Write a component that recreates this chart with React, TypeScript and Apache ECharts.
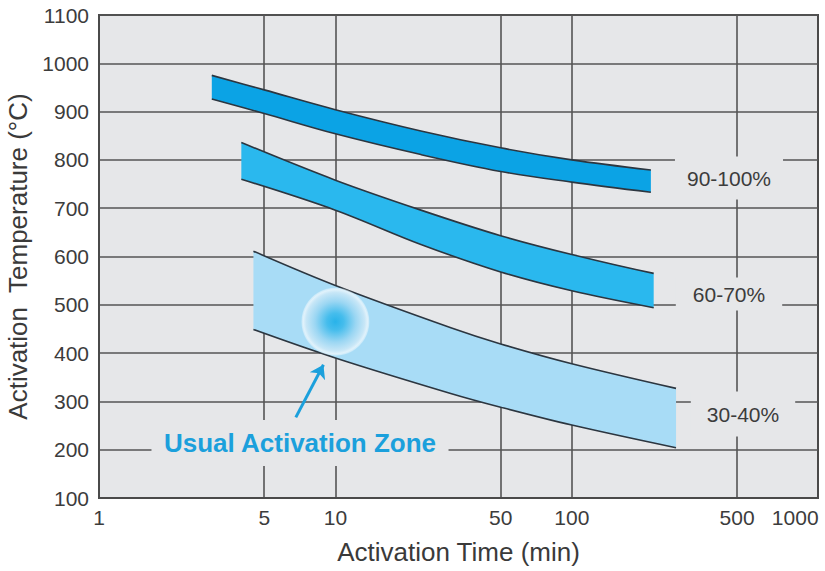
import React, { useEffect, useRef } from "react";
import * as echarts from "echarts";

// ---- data ----
const xLabelValues = [1, 5, 10, 50, 100, 500, 1000];
const xGridValues = [5, 10, 50, 100, 500];

const band1Time = [3, 5, 10, 23, 50, 100, 216];
const band1Upper = [975, 945, 904, 860, 825, 800, 779];
const band1Lower = [926, 896, 854, 811, 776, 754, 733];

const band2Time = [4, 10, 23, 50, 100, 222];
const band2Upper = [836, 758, 696, 643, 604, 565];
const band2Lower = [760, 696, 625, 568, 529, 494];

const band3Time = [4.5, 10, 31, 50, 100, 276];
const band3Upper = [611, 540, 452, 419, 378, 327];
const band3Lower = [449, 390, 316, 288, 251, 204];

const bandNames = ["90-100%", "60-70%", "30-40%"];
const zoneCenter = [10, 465];
const arrowFrom = [6.8, 267];
const arrowTo = [8.9, 376];

const FONT = "'Liberation Sans', Arial, Helvetica, sans-serif";
const PLOT_BG = "#e6e7e9";
const GRID_LINE = "#555555";
const EDGE = "#2c3640";
const ZONE_BLUE = "#1ba0dc";

// rows are [temperature, time] so that the stacked dimension is the y (temperature) one
function makeBand(name: string, time: number[], upper: number[], lower: number[], color: string) {
  return [
    {
      type: "line",
      name: name + " lower",
      stack: name,
      dimensions: ["temp", "time"],
      encode: { x: 1, y: 0 },
      data: time.map((t, i) => [lower[i], t]),
      smooth: 0.35,
      symbol: "none",
      silent: true,
      lineStyle: { color: EDGE, width: 1.6 },
      z: 4,
    },
    {
      type: "line",
      name: name + " upper",
      stack: name,
      dimensions: ["temp", "time"],
      encode: { x: 1, y: 0 },
      data: time.map((t, i) => [upper[i] - lower[i], t]),
      smooth: 0.35,
      symbol: "none",
      silent: true,
      lineStyle: { color: EDGE, width: 1.6 },
      areaStyle: { color, opacity: 1 },
      z: 3,
    },
  ];
}

function labelText(text: string, x: number, y: number, padding: number[], extra: any = {}) {
  return {
    type: "text",
    x,
    y,
    z: 100,
    silent: true,
    style: {
      text,
      align: "center",
      verticalAlign: "middle",
      fontFamily: FONT,
      fontSize: 21,
      fill: "#3c3c3c",
      backgroundColor: PLOT_BG,
      padding,
      ...extra,
    },
  };
}

export default function App() {
  const ref = useRef<HTMLDivElement>(null);
  useEffect(() => {
    const chart = echarts.init(ref.current!, null, { renderer: "svg" });
    const option: any = {
      animation: false,
      grid: {
        left: 99,
        top: 15,
        right: 7,
        bottom: 73,
        show: true,
        backgroundColor: PLOT_BG,
        borderColor: "#4a4a4a",
        borderWidth: 2,
        outerBoundsMode: "none",
        containLabel: false,
      },
      xAxis: {
        type: "log",
        logBase: 10,
        min: 1,
        max: 1100,
        name: "Activation Time (min)",
        nameLocation: "middle",
        nameGap: 41,
        nameTextStyle: { fontFamily: FONT, fontSize: 26, color: "#3a3a3a" },
        axisLine: { show: true, lineStyle: { color: "#4a4a4a", width: 2 } },
        axisTick: { show: false, customValues: xGridValues },
        minorTick: { show: false },
        minorSplitLine: { show: false },
        splitLine: { show: true, lineStyle: { color: GRID_LINE, width: 1.6 } },
        axisLabel: {
          customValues: xLabelValues,
          formatter: (v: number) => {
            const s = String(Math.round(v));
            return Math.round(v) === 1000 ? "{p|" + s + "}" : s;
          },
          fontFamily: FONT,
          fontSize: 21,
          color: "#3c3c3c",
          margin: 9,
          rich: {
            p: { fontFamily: FONT, fontSize: 21, color: "#3c3c3c", padding: [0, 26, 0, 0] },
          },
        },
      },
      yAxis: {
        type: "value",
        min: 100,
        max: 1100,
        interval: 100,
        name: "Activation  Temperature (\u00B0C)",
        nameLocation: "middle",
        nameGap: 50,
        nameTextStyle: { fontFamily: FONT, fontSize: 26, color: "#3a3a3a" },
        axisLine: { show: true, lineStyle: { color: "#4a4a4a", width: 2 } },
        axisTick: { show: false },
        splitLine: { show: true, lineStyle: { color: GRID_LINE, width: 1.6 } },
        axisLabel: {
          formatter: (v: number) => String(v),
          fontFamily: FONT,
          fontSize: 21,
          color: "#3c3c3c",
          margin: 10,
        },
      },
      series: [
        ...makeBand(bandNames[0], band1Time, band1Upper, band1Lower, "#0ba3e5"),
        ...makeBand(bandNames[1], band2Time, band2Upper, band2Lower, "#2ab8ee"),
        ...makeBand(bandNames[2], band3Time, band3Upper, band3Lower, "#a8dcf6"),
        {
          type: "scatter",
          name: "zone",
          silent: true,
          data: [zoneCenter],
          symbol: "circle",
          symbolSize: 68,
          z: 6,
          itemStyle: {
            color: new echarts.graphic.RadialGradient(0.5, 0.5, 0.5, [
              { offset: 0, color: "#08a8e6" },
              { offset: 0.25, color: "#2db5ea" },
              { offset: 0.6, color: "#98d5f2" },
              { offset: 0.86, color: "#cfe9f7" },
              { offset: 0.94, color: "#eef7fc" },
              { offset: 1, color: "rgba(255,255,255,0.4)" },
            ]),
          },
        },
        {
          type: "lines",
          coordinateSystem: "cartesian2d",
          silent: true,
          z: 7,
          symbol: ["none", "arrow"],
          symbolSize: 13,
          lineStyle: { color: ZONE_BLUE, width: 3, opacity: 1 },
          data: [{ coords: [arrowFrom, arrowTo] }],
        },
      ],
      graphic: [
        labelText(bandNames[0], 729, 178, [11, 12]),
        labelText(bandNames[1], 729, 294, [6, 17]),
        labelText(bandNames[2], 743, 414, [12, 16]),
        labelText("Usual Activation Zone", 300, 443, [10, 12], {
          fontSize: 26,
          fontWeight: "bold",
          fill: ZONE_BLUE,
        }),
      ],
    };
    chart.setOption(option);
    return () => chart.dispose();
  }, []);
  return (
    <div
      ref={ref}
      style={{ position: "fixed", left: 0, top: 0, width: 825, height: 571, background: "#ffffff" }}
    />
  );
}
